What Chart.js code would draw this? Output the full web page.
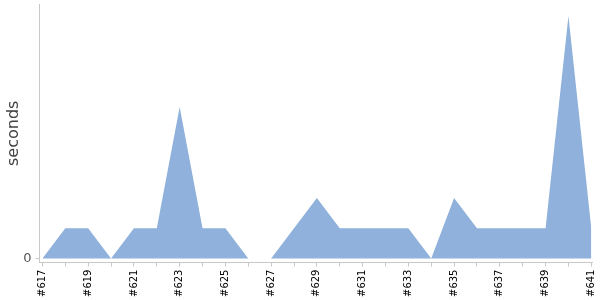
<!DOCTYPE html>
<html>
<head>
<meta charset="utf-8">
<script src="https://cdn.jsdelivr.net/npm/chart.js@4"></script>
<style>
  html, body { margin: 0; padding: 0; background: #fff; }
  #wrap { width: 600px; height: 300px; }
</style>
</head>
<body>
<div id="wrap"><canvas id="chart"></canvas></div>
<script>
// build numbers on the x axis
const builds = ['#617', '#618', '#619', '#620', '#621', '#622', '#623', '#624', '#625',
    '#626', '#627', '#628', '#629', '#630', '#631', '#632', '#633', '#634', '#635',
    '#636', '#637', '#638', '#639', '#640', '#641'];
// duration per build (seconds)
const durations = [0, 1, 1, 0, 1, 1, 5, 1, 1, 0, 0, 1, 2, 1, 1, 1, 1, 0, 2, 1, 1, 1, 1, 8, 1];
// only the zero tick is labelled on the y axis
const yTicks = [0];

const points = durations.map((v, i) => ({ x: i, y: v }));

const ctx = document.getElementById('chart').getContext('2d');
new Chart(ctx, {
    type: 'line',
    data: {
        datasets: [{
            label: 'seconds',
            data: points,
            backgroundColor: 'rgb(143, 177, 219)',
            borderWidth: 0,
            pointRadius: 0,
            fill: 'origin',
            tension: 0
        }]
    },
    options: {
        responsive: true,
        maintainAspectRatio: false,
        animation: false,
        layout: {
            padding: { top: 4, right: 8, left: 0, bottom: 0 }
        },
        plugins: {
            legend: { display: false },
            tooltip: { enabled: false }
        },
        scales: {
            x: {
                type: 'linear',
                min: -0.13,
                max: 24.03,
                afterBuildTicks: (scale) => {
                    scale.ticks = builds.map((b, i) => ({ value: i }));
                },
                afterFit: (scale) => {
                    // don't reserve room for the half label at the ends
                    scale.paddingRight = 0;
                    scale.paddingLeft = 0;
                },
                grid: {
                    drawOnChartArea: false,
                    tickLength: 4,
                    color: '#c8c8c8'
                },
                border: { color: '#c8c8c8' },
                ticks: {
                    autoSkip: false,
                    minRotation: 90,
                    maxRotation: 90,
                    padding: 3,
                    color: '#000',
                    font: { family: 'DejaVu Sans', size: 10 },
                    callback: (value) => (value % 2 === 0 ? builds[value] : '')
                }
            },
            y: {
                min: -0.13,
                max: 8.4,
                afterBuildTicks: (scale) => {
                    scale.ticks = yTicks.map(v => ({ value: v }));
                },
                afterFit: (scale) => {
                    scale.paddingTop = 0;
                    scale.paddingBottom = 0;
                },
                title: {
                    display: true,
                    text: 'seconds',
                    color: '#444',
                    font: { family: 'DejaVu Sans', size: 16 },
                    padding: { top: 4, bottom: -4 }
                },
                grid: {
                    drawOnChartArea: false,
                    tickLength: 4,
                    color: '#c8c8c8'
                },
                border: { color: '#c8c8c8' },
                ticks: {
                    color: '#555',
                    padding: 4,
                    font: { family: 'DejaVu Sans', size: 13 }
                }
            }
        }
    }
});
</script>
</body>
</html>
